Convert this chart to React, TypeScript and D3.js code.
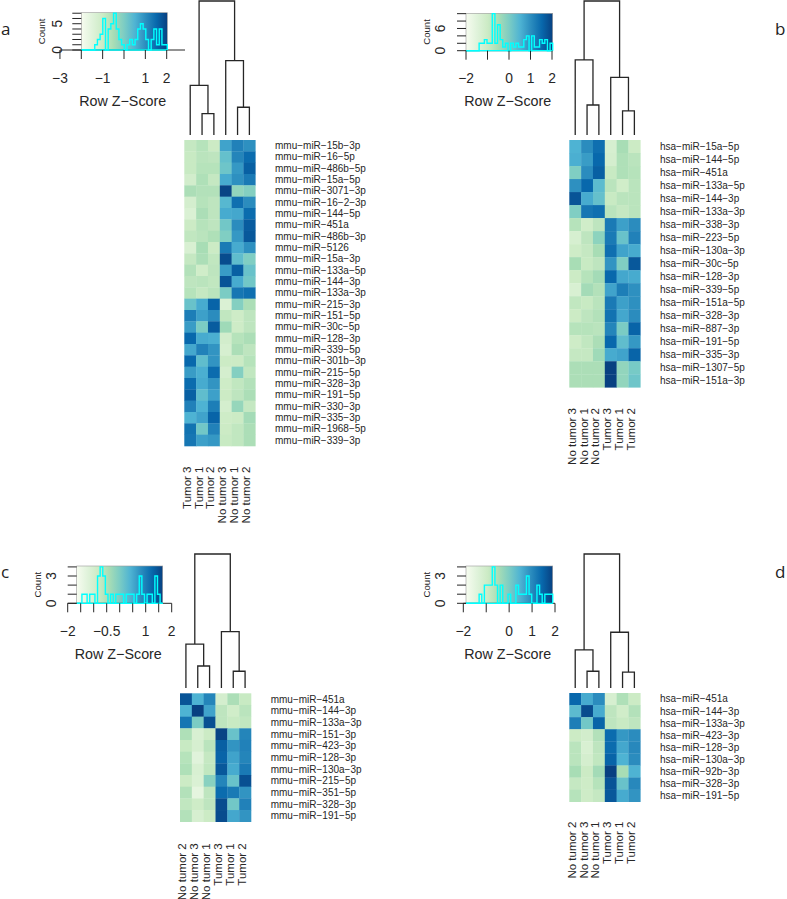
import React from "react";
import * as d3 from "d3";

// ---------- data ----------
const palette = ["#F7FCF0", "#E0F3DB", "#CCEBC5", "#A8DDB5", "#7BCCC4", "#4EB3D3", "#2B8CBE", "#0868AC", "#084081"];

const rowsA = ["mmu-miR-15b-3p","mmu-miR-16-5p","mmu-miR-486b-5p","mmu-miR-15a-5p","mmu-miR-3071-3p","mmu-miR-16-2-3p","mmu-miR-144-5p","mmu-miR-451a","mmu-miR-486b-3p","mmu-miR-5126","mmu-miR-15a-3p","mmu-miR-133a-5p","mmu-miR-144-3p","mmu-miR-133a-3p","mmu-miR-215-3p","mmu-miR-151-5p","mmu-miR-30c-5p","mmu-miR-128-3p","mmu-miR-339-5p","mmu-miR-301b-3p","mmu-miR-215-5p","mmu-miR-328-3p","mmu-miR-191-5p","mmu-miR-330-3p","mmu-miR-335-3p","mmu-miR-1968-5p","mmu-miR-339-3p"];
const colsA = ["Tumor 3","Tumor 1","Tumor 2","No tumor 3","No tumor 1","No tumor 2"];
const cellsA = [
[2.2,2.6,2.0,5.4,6.3,5.9],[2.1,2.5,2.4,4.5,6.2,6.9],[2.1,2.6,2.6,4.3,5.7,7.2],[1.7,2.8,2.2,5.2,5.9,6.5],
[2.9,2.7,2.7,7.9,3.5,3.8],[1.6,2.6,2.4,4.8,6.8,6.0],[1.3,2.9,2.4,5.2,5.3,6.9],[2.0,2.6,2.4,4.2,6.0,7.3],
[2.3,2.5,2.8,3.9,5.7,7.4],[1.4,3.0,2.0,6.5,5.2,5.9],[2.2,2.9,2.3,7.7,4.6,3.9],[2.7,1.8,2.4,5.6,7.2,4.4],
[2.4,2.5,2.3,7.5,5.2,4.2],[2.6,2.2,2.5,4.0,6.6,6.8],[4.4,5.2,7.1,1.3,3.8,2.9],[6.4,5.5,6.0,2.3,1.9,2.4],
[5.6,4.0,7.3,3.2,1.9,2.4],[7.0,5.2,5.1,1.7,2.6,2.9],[5.3,6.3,5.8,1.5,2.9,2.4],[7.0,4.6,5.8,2.0,2.0,2.6],
[5.6,5.1,6.9,1.6,3.8,2.3],[6.9,5.2,5.8,1.9,2.3,2.7],[7.2,4.6,5.5,2.0,2.4,2.9],[6.3,5.0,6.4,1.6,3.4,2.2],
[5.0,5.4,7.1,1.9,2.0,3.1],[6.7,4.2,6.3,2.0,2.3,2.9],[6.6,5.5,5.7,2.1,2.3,2.9]];
const histA = [0,0,0,0,0,1,2,3,6,0,4,5,7,4,2,1,0,1,2,1,2,4,5,4,2,0,2,4,1,4,1,1];
const mergesA = [0.37,0.16,0.555,0.207];

const rowsB = ["hsa-miR-15a-5p","hsa-miR-144-5p","hsa-miR-451a","hsa-miR-133a-5p","hsa-miR-144-3p","hsa-miR-133a-3p","hsa-miR-338-3p","hsa-miR-223-5p","hsa-miR-130a-3p","hsa-miR-30c-5p","hsa-miR-128-3p","hsa-miR-339-5p","hsa-miR-151a-5p","hsa-miR-328-3p","hsa-miR-887-3p","hsa-miR-191-5p","hsa-miR-335-3p","hsa-miR-1307-5p","hsa-miR-151a-3p"];
const colsB = ["No tumor 3","No tumor 1","No tumor 2","Tumor 3","Tumor 1","Tumor 2"];
const cellsB = [
[5.0,6.0,6.8,1.5,3.0,2.0],[5.1,5.6,7.0,1.6,2.8,2.5],[3.9,6.0,7.2,2.1,2.8,2.6],[5.9,7.0,4.7,2.5,1.8,2.5],
[7.5,5.2,4.5,2.1,2.5,2.5],[3.9,6.6,6.8,2.5,2.2,2.5],[2.6,1.8,2.4,6.5,5.5,6.0],[1.5,2.4,3.6,6.5,4.4,6.3],
[1.9,2.2,3.0,6.8,5.4,5.2],[3.0,2.1,2.4,5.8,3.9,7.4],[2.0,2.6,3.1,7.0,5.3,5.2],[1.4,3.1,2.7,5.4,6.4,5.9],
[2.3,2.1,2.5,6.5,5.5,5.9],[2.0,2.4,2.7,6.7,5.3,6.0],[2.6,2.6,2.5,6.2,4.0,7.1],[1.9,2.3,2.9,7.0,4.6,5.7],
[2.2,2.2,3.2,5.2,5.4,7.1],[2.9,2.9,2.9,8.0,3.5,4.1],[2.9,2.9,2.9,8.0,3.5,4.3]];
const histB = [0,0,0,0,0,2,2,3,2,2,10,2,7,3,1,2,0,2,1,2,1,1,3,4,0,4,1,1,3,2,3,0,2];
const mergesB = [0.56,0.224,0.43,0.18];

const rowsC = ["mmu-miR-451a","mmu-miR-144-3p","mmu-miR-133a-3p","mmu-miR-151-3p","mmu-miR-423-3p","mmu-miR-128-3p","mmu-miR-130a-3p","mmu-miR-215-5p","mmu-miR-351-5p","mmu-miR-328-3p","mmu-miR-191-5p"];
const colsC = ["No tumor 2","No tumor 3","No tumor 1","Tumor 3","Tumor 1","Tumor 2"];
const cellsC = [
[7.5,5.0,6.2,1.6,2.9,2.1],[5.0,8.0,5.4,2.4,1.8,2.5],[6.6,4.0,7.6,2.4,2.1,2.3],[2.8,1.4,2.0,7.9,4.4,6.2],
[2.1,1.5,2.5,7.2,5.8,6.3],[2.6,1.0,2.2,7.1,5.4,6.2],[2.8,1.4,2.3,7.4,5.2,6.5],[2.0,1.3,3.7,6.2,4.4,7.6],
[2.7,0.8,2.4,6.9,6.5,5.8],[2.3,1.9,2.4,7.7,4.2,6.3],[2.7,1.5,2.0,7.7,5.3,5.8]];
const histC = [0,0,1,1,0,1,1,0,3,4,3,1,0,1,0,1,1,1,0,1,1,1,0,1,3,1,0,1,1,0,3,1,0];
const mergesC = [0.328,0.164,0.42,0.125];

const rowsD = ["hsa-miR-451a","hsa-miR-144-3p","hsa-miR-133a-3p","hsa-miR-423-3p","hsa-miR-128-3p","hsa-miR-130a-3p","hsa-miR-92b-3p","hsa-miR-328-3p","hsa-miR-191-5p"];
const colsD = ["No tumor 2","No tumor 3","No tumor 1","Tumor 3","Tumor 1","Tumor 2"];
const cellsD = [
[7.0,5.2,6.0,1.5,2.8,2.0],[4.7,7.7,5.2,2.4,1.8,2.7],[6.4,4.2,7.1,2.4,2.1,2.4],[2.0,1.7,2.7,6.9,5.7,6.0],
[2.5,1.4,2.4,6.9,5.3,6.1],[2.5,1.6,2.3,7.1,5.0,6.0],[3.0,2.0,3.1,8.0,3.0,5.0],[2.2,1.9,2.6,7.5,4.4,6.1],[2.6,1.9,2.2,7.4,5.2,5.8]];
const histD = [0,0,0,0,0,1,0,2,2,2,4,2,0,2,0,0,1,0,0,2,1,1,1,3,1,0,0,2,1,0,1,1,1];
const mergesD = [0.284,0.125,0.416,0.119];

// ---------- layout ----------
const FONT = "'Liberation Sans', Arial, sans-serif";
const INK = "#262626";
const color = d3.scaleLinear<string>().domain(d3.range(palette.length)).range(palette).interpolate(d3.interpolateRgb);

type Panel = {
  id: string; letter: string; letterX: number; letterY: number;
  rows: string[]; cols: string[]; cells: number[][]; hist: number[]; merges: number[];
  hx: [number, number]; hy: [number, number]; dendro: [number, number];
  labelX: number; colLabelY: number;
  keyX: [number, number]; keyY: [number, number]; zRange: [number, number];
  zTicks: number[]; zLabels: number[]; axisExt: [number, number];
  countMax: number; countStep: number; countLabels: number[];
  tickLen: number; titleX: number; titleY: number; tickY: number; countX: number; numX: number;
};

const panels: Panel[] = [
  { id: "a", letter: "a", letterX: 1, letterY: 35, rows: rowsA, cols: colsA, cells: cellsA, hist: histA, merges: mergesA,
    hx: [184.3, 255.3], hy: [140, 446], dendro: [135, 1], labelX: 275, colLabelY: 466.5,
    keyX: [81.3, 167.3], keyY: [12.7, 50], zRange: [81.3, 166.7], zTicks: [-3,-2,-1,0,1,2], zLabels: [-3,-1,1,2], axisExt: [60, 185],
    countMax: 7, countStep: 1, countLabels: [0,5], tickLen: 9, titleX: 122.7, titleY: 106, tickY: 83, countX: 42, numX: 56.7 },
  { id: "b", letter: "b", letterX: 775, letterY: 35, rows: rowsB, cols: colsB, cells: cellsB, hist: histB, merges: mergesB,
    hx: [569.3, 640.3], hy: [140, 387.3], dendro: [135, 1], labelX: 660, colLabelY: 408,
    keyX: [466, 552.7], keyY: [13.3, 50.7], zRange: [466, 552], zTicks: [-2,-1,0,1,2], zLabels: [-2,0,1,2], axisExt: [466, 552.7],
    countMax: 10, countStep: 2, countLabels: [0,6], tickLen: 9, titleX: 507.7, titleY: 106, tickY: 83, countX: 427, numX: 440 },
  { id: "c", letter: "c", letterX: 1, letterY: 578, rows: rowsC, cols: colsC, cells: cellsC, hist: histC, merges: mergesC,
    hx: [180, 251], hy: [693.3, 821.7], dendro: [688, 554], labelX: 270.7, colLabelY: 843.3,
    keyX: [76.7, 162.7], keyY: [566, 603.3], zRange: [67.7, 171.7], zTicks: d3.range(-2, 2.01, 0.5), zLabels: [-2,-0.5,1,2], axisExt: [67.7, 171.7],
    countMax: 4, countStep: 1, countLabels: [0,3], tickLen: 9, titleX: 118.3, titleY: 659, tickY: 636, countX: 38, numX: 50.7 },
  { id: "d", letter: "d", letterX: 775, letterY: 578, rows: rowsD, cols: colsD, cells: cellsD, hist: histD, merges: mergesD,
    hx: [569.3, 640.3], hy: [693, 801.7], dendro: [688, 554], labelX: 660, colLabelY: 821.7,
    keyX: [466, 552.7], keyY: [566, 603.3], zRange: [463.3, 555], zTicks: [-2,-1,0,1,2], zLabels: [-2,0,1,2], axisExt: [463.3, 555],
    countMax: 4, countStep: 1, countLabels: [0,3], tickLen: 9, titleX: 507.7, titleY: 659, tickY: 636, countX: 427, numX: 440 },
];

const minus = (s: string | number) => String(s).replace(/-/g, "\u2212");

function Dendrogram({ p, x }: { p: Panel; x: d3.ScaleBand<number> }) {
  const h = d3.scaleLinear().domain([0, 1]).range(p.dendro);
  const cx = (i: number) => x(i)! + x.bandwidth() / 2;
  const [lh, li, rh, ri] = p.merges;
  const lines: string[] = [];
  const u = (x0: number, y0: number, x1: number, y1: number, top: number) =>
    lines.push(`M${x0},${y0}V${top}H${x1}V${y1}`);
  const innerL = (cx(1) + cx(2)) / 2, innerR = (cx(4) + cx(5)) / 2;
  u(cx(1), h(0), cx(2), h(0), h(li));
  u(cx(4), h(0), cx(5), h(0), h(ri));
  u(cx(0), h(0), innerL, h(li), h(lh));
  u(cx(3), h(0), innerR, h(ri), h(rh));
  const a = (cx(0) + innerL) / 2, b = (cx(3) + innerR) / 2;
  u(a, h(lh), b, h(rh), h(1));
  return <path d={lines.join("")} fill="none" stroke={INK} strokeWidth={1.3} />;
}

function Inset({ p }: { p: Panel }) {
  const z = d3.scaleLinear().domain([-2, 2]).range(p.zRange);
  const [k0, k1] = p.keyX;
  const y = d3.scaleLinear().domain([0, p.countMax]).range([p.keyY[1], p.keyY[1] - (p.keyY[1] - p.keyY[0]) * (p.countMax / (p.countMax + 0.1))]);
  const bin = d3.scaleLinear().domain([0, p.hist.length]).range(p.keyX);
  const step = d3.line<[number, number]>().x(d => d[0]).y(d => d[1]).curve(d3.curveStepAfter);
  const pts: [number, number][] = p.hist.map((v, i) => [bin(i), y(v)] as [number, number]);
  pts.push([k1, y(0)]);
  const counts = d3.range(0, p.countMax + 0.01, p.countStep);
  return (
    <g>
      <defs>
        <linearGradient id={`key-${p.id}`}>
          {palette.map((c, i) => <stop key={i} offset={i / (palette.length - 1)} stopColor={c} />)}
        </linearGradient>
      </defs>
      <rect x={k0} y={p.keyY[0]} width={k1 - k0} height={p.keyY[1] - p.keyY[0]} fill={`url(#key-${p.id})`} stroke="#999" strokeWidth={0.6} />
      <path d={`M${p.axisExt[0]},${y(0)}H${p.axisExt[1]}`} stroke={INK} strokeWidth={1} />
      <path d={`M${k0},${y(0)}H${k1}`} stroke="#00FFFF" strokeWidth={1.3} />
      <path d={step(pts)!} fill="none" stroke="#00FFFF" strokeWidth={1.4} />
      {p.zTicks.map(t => <line key={t} x1={z(t)} x2={z(t)} y1={y(0)} y2={y(0) + p.tickLen} stroke={INK} strokeWidth={1} />)}
      {p.zLabels.map(t => <text key={t} x={z(t)} y={p.tickY} textAnchor="middle" fontSize={13.8} fill={INK}>{minus(t)}</text>)}
      {counts.map(c => <line key={c} x1={k0 - 9} x2={k0} y1={y(c)} y2={y(c)} stroke={INK} strokeWidth={1} />)}
      {p.countLabels.map(c => (
        <text key={c} transform={`translate(${p.numX + 5},${y(c)}) rotate(-90)`} textAnchor="middle" fontSize={13.8} fill={INK}>{c}</text>
      ))}
      <text transform={`translate(${p.countX + 3.3},${(p.keyY[0] + p.keyY[1]) / 2}) rotate(-90)`} textAnchor="middle" fontSize={9.6} fill={INK}>Count</text>
      <text x={p.titleX} y={p.titleY} textAnchor="middle" fontSize={14.3} fill={INK}>Row Z{"\u2212"}Score</text>
    </g>
  );
}

function Heat({ p }: { p: Panel }) {
  const x = d3.scaleBand<number>().domain(d3.range(p.cols.length)).range(p.hx);
  const y = d3.scaleBand<number>().domain(d3.range(p.rows.length)).range(p.hy);
  return (
    <g>
      <Dendrogram p={p} x={x} />
      {p.cells.map((row, r) => row.map((v, c) => (
        <rect key={`${r}-${c}`} x={x(c)} y={y(r)} width={x.bandwidth() + 0.3} height={y.bandwidth() + 0.3} fill={color(v)} />
      )))}
      {p.rows.map((name, r) => (
        <text key={name + r} x={p.labelX} y={y(r)! + y.bandwidth() / 2 + 3.4} fontSize={10} fill={INK}>{minus(name)}</text>
      ))}
      {p.cols.map((name, c) => (
        <text key={name} transform={`translate(${x(c)! + x.bandwidth() / 2 + 0.5},${p.colLabelY}) rotate(-90)`} textAnchor="end" fontSize={11.5} fill={INK}>{name}</text>
      ))}
    </g>
  );
}

export default function App() {
  return (
    <svg width={787} height={899} viewBox="0 0 787 899" fontFamily={FONT}
      style={{ position: "absolute", left: 0, top: 0, display: "block", background: "#fff" }}>
      {panels.map(p => (
        <g key={p.id}>
          <text x={p.letterX} y={p.letterY} fontSize={17} fontFamily="'Open Sans', sans-serif" fill="#222">{p.letter}</text>
          <Inset p={p} />
          <Heat p={p} />
        </g>
      ))}
    </svg>
  );
}
